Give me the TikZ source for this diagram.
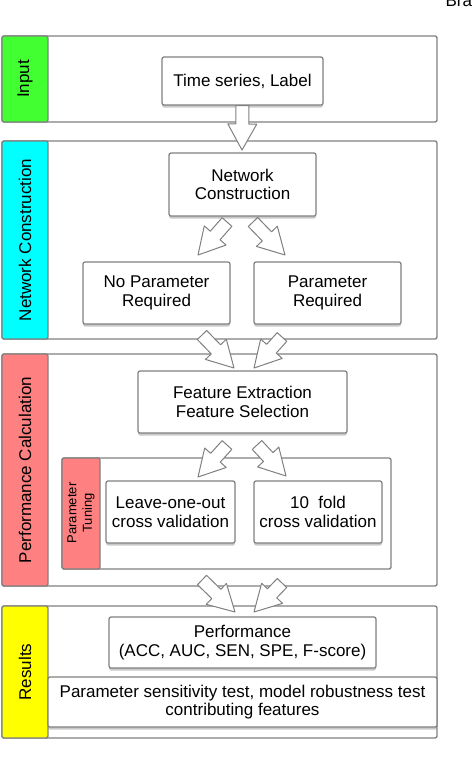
\documentclass[tikz,border=0pt]{standalone}
\usepackage{fontspec}
\setmainfont{Liberation Sans}
\usetikzlibrary{calc,shadows,backgrounds}
\definecolor{bandgray}{RGB}{128,128,128}
\definecolor{inputgreen}{RGB}{66,255,50}
\definecolor{netcyan}{RGB}{0,255,255}
\definecolor{perfsalmon}{RGB}{255,128,128}
\definecolor{resyellow}{RGB}{255,255,0}
\def\fatarrow(#1)(#2){%
	\coordinate (fahead) at ($(#2)!26pt!(#1)$);
	\draw[fat] ($(#1)!6.5pt!90:(#2)$) -- ($(fahead)!6.5pt!90:(#2)$) -- ($(fahead)!14.5pt!90:(#2)$) -- (#2)
		-- ($(fahead)!14.5pt!-90:(#2)$) -- ($(fahead)!6.5pt!-90:(#2)$) -- ($(#1)!6.5pt!-90:(#2)$) -- cycle;}
\tikzset{
	band/.style={draw=bandgray, line width=1.3pt, rounded corners=2pt, fill=white},
	tab/.style={draw=bandgray, line width=1.3pt, rounded corners=2pt},
	box/.style={draw=bandgray, line width=1.2pt, rounded corners=2pt, fill=white, align=center,
		inner sep=0pt, font=\fontsize{17}{18.5}\selectfont,
		drop shadow={shadow xshift=0pt, shadow yshift=-2.5pt, opacity=0.35, fill=black!60}},
	lbl/.style={rotate=90, font=\fontsize{17}{18.5}\selectfont},
	fat/.style={draw=bandgray, line width=1pt, fill=white, line join=round}
}

\begin{document}
\begin{tikzpicture}[x=1pt, y=-1pt]
		%%%%% START %%%%%
		\useasboundingbox (0, 0) rectangle (474, 766);
		\node[anchor=base west, font=\fontsize{17}{18.5}\selectfont] (bra) at (442, 6) {Bra};
		
		% boxes
		\node[box, minimum width=161pt, minimum height=48pt] (ts) at (242.5, 81) {Time series, Label};
		\node[box, minimum width=147pt, minimum height=63pt] (nc) at (242.5, 184.5) {Network\\Construction};
		\node[box, minimum width=147pt, minimum height=62pt] (np) at (156.5, 293) {No Parameter\\Required};
		\node[box, minimum width=147pt, minimum height=62pt] (pr) at (327.5, 293) {Parameter\\Required};
		\node[box, minimum width=209pt, minimum height=62pt] (fe) at (242.5, 402) {Feature Extraction\\Feature Selection};
		\node[box, minimum width=129pt, minimum height=62pt] (loo) at (170.5, 512) {Leave-one-out\\cross validation};
		\node[box, minimum width=128pt, minimum height=62pt] (tf) at (318, 512) {10\ \ fold\\cross validation};
		\node[box, minimum width=267pt, minimum height=51pt] (perf) at (242.5, 642.5) {Performance\\(ACC, AUC, SEN, SPE, F-score)};
		\node[box, minimum width=389pt, minimum height=50pt] (sens) at (242.5, 702) {Parameter sensitivity test, model robustness test\\contributing features};
		
		% bands
		\begin{scope}[on background layer]
			\draw[band] (2, 36) rectangle (437, 122);
			\draw[tab, fill=inputgreen] (2, 36) rectangle (48, 122);
			\draw[band] (2, 141) rectangle (437, 339);
			\draw[tab, fill=netcyan] (2, 141) rectangle (48, 339);
			\draw[band] (2, 354) rectangle (437, 586);
			\draw[tab, fill=perfsalmon] (2, 354) rectangle (48, 586);
			\draw[band] (62, 458) rectangle (391, 569);
			\draw[tab, fill=perfsalmon] (62, 458) rectangle (100, 569);
			\draw[band] (2, 606) rectangle (437, 738);
			\draw[tab, fill=resyellow] (2, 606) rectangle (48, 738);
		\end{scope}
		
		\node[lbl] (lin) at (25, 79) {Input};
		\node[lbl] (lnc) at (25, 240) {Network Construction};
		\node[lbl] (lpc) at (25, 470) {Performance Calculation};
		\node[lbl] (lres) at (25, 672) {Results};
		\node[lbl, align=center, font=\fontsize{13}{15.5}\selectfont] (lpt) at (81, 513) {Parameter\\Tuning};
		
		% arrows
		\coordinate (t1) at (242, 150);
		\fatarrow(ts.south)(t1);
		
		\coordinate (s2) at (227, 222); \coordinate (t2) at (198, 255);
		\coordinate (s3) at (253, 222); \coordinate (t3) at (285, 255);
		\fatarrow(s2)(t2);
		\fatarrow(s3)(t3);
		
		\coordinate (s4) at (202, 335); \coordinate (t4) at (234, 368);
		\coordinate (s5) at (282, 337); \coordinate (t5) at (254, 368);
		\fatarrow(s4)(t4);
		\fatarrow(s5)(t5);
		
		\coordinate (s6) at (227, 445); \coordinate (t6) at (198, 477);
		\coordinate (s7) at (257, 445); \coordinate (t7) at (286, 476);
		\fatarrow(s6)(t6);
		\fatarrow(s7)(t7);
		
		\coordinate (s8) at (202, 580); \coordinate (t8) at (235, 612);
		\coordinate (s9) at (282, 583); \coordinate (t9) at (254, 612);
		\fatarrow(s8)(t8);
		\fatarrow(s9)(t9);
		%%%%% END %%%%%
	\end{tikzpicture}
\end{document}
